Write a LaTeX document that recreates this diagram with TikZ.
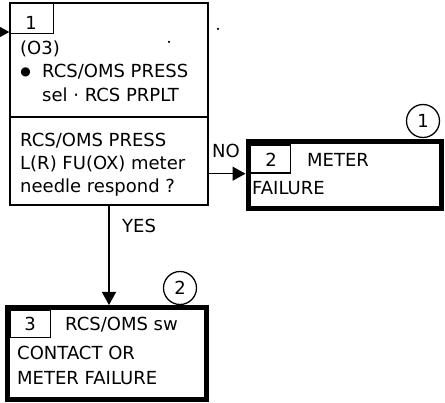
\documentclass[tikz,border=0pt]{standalone}
\usepackage{fontspec}
\setmainfont{DejaVu Sans}
\newfontfamily\symfont{DejaVu Sans}
\usetikzlibrary{arrows.meta}
\begin{document}
\begin{tikzpicture}[x=1pt,y=-1pt,
  thinbox/.style={draw, line width=1.4pt, inner sep=0pt, anchor=north west},
  thickbox/.style={draw, line width=5pt, inner sep=0pt, anchor=north west},
  tabbox/.style={draw, line width=1.2pt, inner sep=0pt, anchor=north west},
  txt/.style={anchor=base west, inner sep=0pt, font=\fontsize{18}{22}\selectfont},
  numtxt/.style={anchor=base, inner sep=0pt, font=\fontsize{18}{22}\selectfont},
  arr/.style={line width=1.3pt, -{Triangle[length=13pt,width=14pt]}},
  refnum/.style={draw, circle, line width=1.3pt, minimum size=33pt, inner sep=0pt, font=\fontsize{18}{22}\selectfont},
  speck/.style={fill, circle, inner sep=0pt, minimum size=2.5pt}]
\useasboundingbox (0,0) rectangle (445,403);

% box 1
\node[thinbox, minimum width=198pt, minimum height=202pt] (b1) at (9.3,2.3) {};
\node[tabbox, minimum width=43pt, minimum height=30pt] (t1) at (10,3) {};
\node[numtxt] (n1) at (31,30) {1};
\coordinate (dv) at (10,117);
\draw[line width=1.4pt] (dv -| b1.west) -- (dv -| b1.east);
\node[txt] (l1) at (20,55) {(O3)};
\node[anchor=center, inner sep=0pt, font=\symfont\fontsize{12}{12}\selectfont] (bul) at (25.5,72) {●};
\node[txt] (l2) at (42,78) {RCS/OMS PRESS};
\node[txt] (l3) at (42,102) {sel · RCS PRPLT};
\node[txt] (l4) at (20,147) {RCS/OMS PRESS};
\node[txt] (l5) at (20,170) {L(R) FU(OX) meter};
\node[txt] (l6) at (20,193) {needle respond ?};

% box 2
\node[thickbox, minimum width=193pt, minimum height=67pt] (b2) at (245.5,139.5) {};
\node[tabbox, minimum width=40pt, minimum height=28pt] (t2) at (250,144.5) {};
\node[numtxt] (n2) at (271,167) {2};
\node[txt] (m1) at (307,167) {METER};
\node[txt] (m2) at (252,195) {FAILURE};

% box 3
\node[thickbox, minimum width=199pt, minimum height=92.5pt] (b3) at (5,305) {};
\node[tabbox, minimum width=40pt, minimum height=27pt] (t3) at (10,310) {};
\node[numtxt] (n3) at (30,331) {3};
\node[txt] (k1) at (65,331) {RCS/OMS sw};
\node[txt] (k2) at (17,360) {CONTACT OR};
\node[txt] (k3) at (17,385) {METER FAILURE};

% reference circles
\node[refnum] (c1) at (423,121) {1};
\node[refnum] (c2) at (180,288) {2};

% connectors
\coordinate (in) at (0,32);
\draw[arr] (in) -- (in -| b1.west);
\draw[arr] (b1.east |- t2.south) -- (b2.west |- t2.south);
\draw[arr] (b1.south) -- (b1.south |- b3.north);
\node[txt] (no) at (212,158) {NO};
\node[txt] (yes) at (122,233) {YES};

% specks
\node[speck] (s1) at (218,29) {};
\node[speck] (s2) at (169,42) {};
\end{tikzpicture}
\end{document}
